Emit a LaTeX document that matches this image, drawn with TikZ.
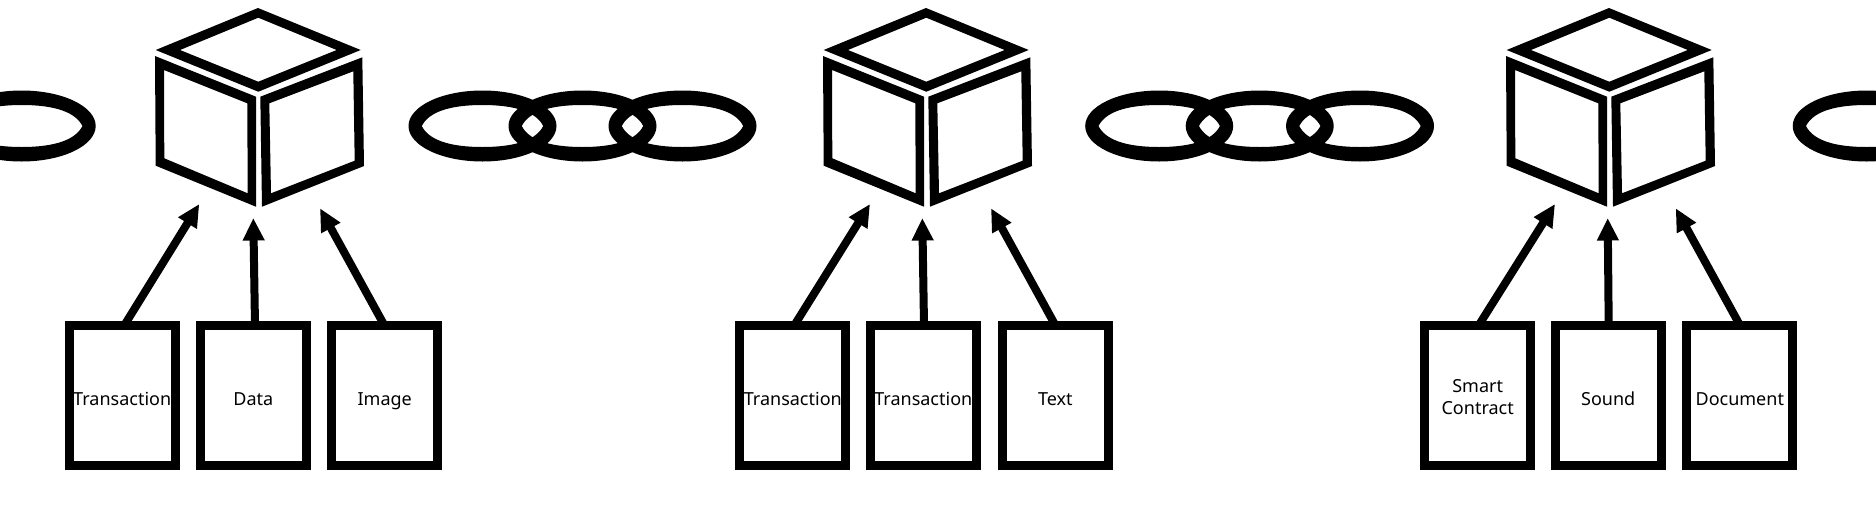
\documentclass[tikz,border=0pt]{standalone}
\usepackage{fontspec}
\setmainfont{Noto Sans}
\usetikzlibrary{arrows.meta}
\tikzset{
  block/.style={draw=black,line width=9pt,fill=white,minimum width=106pt,minimum height=140pt,inner sep=0pt,outer sep=0pt,align=center,font=\fontsize{18}{21.6}\selectfont,text height=21pt,text depth=0pt},
  blocktext/.style={inner sep=0pt,align=center,font=\fontsize{18}{21.6}\selectfont},
  face/.style={fill=black,even odd rule,draw=none},
  feed/.style={draw=black,line width=8pt,-{Triangle[length=22.5pt,width=20.5pt]}}
}
\newcommand{\cubeat}[1]{%
  \begin{scope}[shift={(#1,0)}]
    \fill[face] (0,8)--(102.7,50)--(0.3,91.7)--(-102.3,50)--cycle (0.3,17.7)--(78.7,50)--(0.3,81.7)--(-78,50)--cycle;
    \fill[face] (-103,56)--(-2,96.7)--(-2,206.7)--(-102.3,165.7)--cycle (-94,70)--(-10.7,103.3)--(-10.3,193.3)--(-93.7,158.3)--cycle;
    \fill[face] (2.3,96.7)--(104.3,57.3)--(106,166)--(4,206.7)--cycle (11.3,103.3)--(95.3,71.3)--(96.7,160.7)--(13,193.3)--cycle;
  \end{scope}}
\newcommand{\ringat}[1]{%
  \begin{scope}[shift={(#1,126)}]
    \fill[face] (0,0) ellipse [x radius=74,y radius=35.5]
      (-60.7,0) .. controls (-54,-13.5) and (-34,-21) .. (0,-21)
      .. controls (34,-21) and (54,-13.5) .. (60.7,0)
      .. controls (54,13.5) and (34,21) .. (0,21)
      .. controls (-34,21) and (-54,13.5) .. (-60.7,0) -- cycle;
  \end{scope}}
\begin{document}
\begin{tikzpicture}[x=1pt,y=-1pt]
\useasboundingbox (0,0) rectangle (1876,512);
\fill[white] (0,0) rectangle (1876,512);
\begin{scope}
\clip (0,0) rectangle (1876,512);
\ringat{21.7}
\ringat{1866.7}
\end{scope}
\ringat{482.5}\ringat{582.5}\ringat{682.5}
\ringat{1159.2}\ringat{1259.7}\ringat{1360}
\cubeat{258}
\cubeat{926}
\cubeat{1609}
% group 1
\node[block] (a1) at (122.2,395) {Transaction};
\node[block] (a2) at (253.3,395) {Data};
\node[block] (a3) at (384.7,395) {Image};
\coordinate (sa1) at (124.5,325); \coordinate (sa2) at (255,325); \coordinate (sa3) at (384.2,325);
\coordinate (ta1) at (199.3,204); \coordinate (ta2) at (253.3,218); \coordinate (ta3) at (320,208.3);
\draw[feed] (a1.north -| sa1) -- (ta1);
\draw[feed] (a2.north -| sa2) -- (ta2);
\draw[feed] (a3.north -| sa3) -- (ta3);
% group 2
\node[block] (b1) at (792.8,395) {Transaction};
\node[block] (b2) at (923.3,395) {Transaction};
\node[block] (b3) at (1055.3,395) {Text};
\coordinate (sb1) at (794.5,325); \coordinate (sb2) at (924,325); \coordinate (sb3) at (1055.2,325);
\coordinate (tb1) at (870,204); \coordinate (tb2) at (922.3,218); \coordinate (tb3) at (991,208.3);
\draw[feed] (b1.north -| sb1) -- (tb1);
\draw[feed] (b2.north -| sb2) -- (tb2);
\draw[feed] (b3.north -| sb3) -- (tb3);
% group 3
\node[block] (c1) at (1477.7,395) {};
\node[blocktext] (c1text) at (1477.7,397) {Smart\\Contract};
\node[block] (c2) at (1608.2,395) {Sound};
\node[block] (c3) at (1739.8,395) {Document};
\coordinate (sc1) at (1478.9,325); \coordinate (sc2) at (1608.7,325); \coordinate (sc3) at (1739.8,325);
\coordinate (tc1) at (1555,204); \coordinate (tc2) at (1607.7,218); \coordinate (tc3) at (1675.7,208.3);
\draw[feed] (c1.north -| sc1) -- (tc1);
\draw[feed] (c2.north -| sc2) -- (tc2);
\draw[feed] (c3.north -| sc3) -- (tc3);
\end{tikzpicture}
\end{document}
